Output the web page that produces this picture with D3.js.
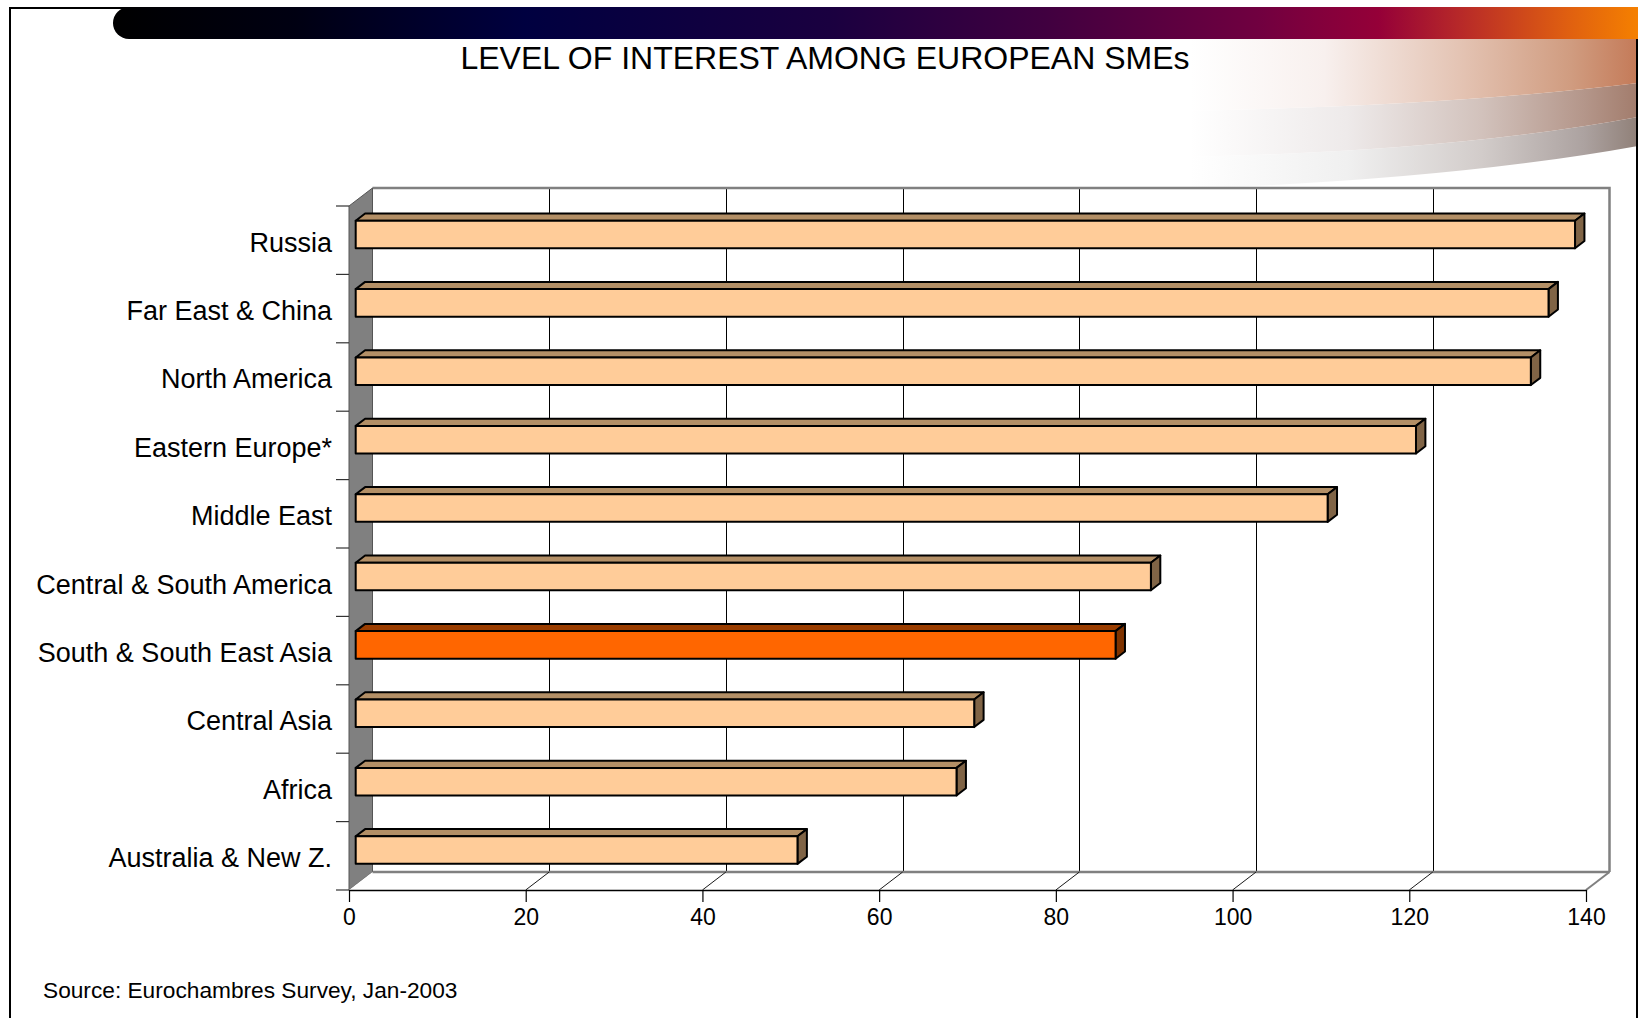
<!DOCTYPE html>
<html>
<head>
<meta charset="utf-8">
<script src="https://cdn.jsdelivr.net/npm/d3@7"></script>
<style>
  html, body { margin: 0; padding: 0; background: #ffffff; }
  svg { display: block; font-family: "Liberation Sans", Arial, sans-serif; }
</style>
</head>
<body>
<svg id="chart" width="1641" height="1018"></svg>
<script>
// Survey data: level of interest by target region
const categories = [
  "Russia",
  "Far East & China",
  "North America",
  "Eastern Europe*",
  "Middle East",
  "Central & South America",
  "South & South East Asia",
  "Central Asia",
  "Africa",
  "Australia & New Z."
];
const interest = [138, 135, 133, 120, 110, 90, 86, 70, 68, 50];
const highlighted = ["South & South East Asia"];
const xTicks = [0, 20, 40, 60, 80, 100, 120, 140];
const titleText = "LEVEL OF INTEREST AMONG EUROPEAN SMEs";
const sourceText = "Source: Eurochambres Survey, Jan-2003";

const svg = d3.select("#chart");
const defs = svg.append("defs");

// ---- slide decoration -------------------------------------------------
const bannerGrad = defs.append("linearGradient")
  .attr("id", "bannerGrad").attr("gradientUnits", "userSpaceOnUse")
  .attr("x1", 113).attr("x2", 1638).attr("y1", 0).attr("y2", 0);
[[0, "#000000"], [0.12, "#000012"], [0.27, "#000040"], [0.47, "#1a0040"],
 [0.61, "#400040"], [0.75, "#700040"], [0.83, "#950038"], [0.885, "#b82a28"],
 [0.955, "#e06010"], [1, "#f58000"]]
  .forEach(([o, c]) => bannerGrad.append("stop").attr("offset", o).attr("stop-color", c));

function fadeGrad(id, stops) {
  const g = defs.append("linearGradient").attr("id", id)
    .attr("gradientUnits", "userSpaceOnUse")
    .attr("x1", 1190).attr("x2", 1638).attr("y1", 0).attr("y2", 0);
  stops.forEach(([o, c]) => g.append("stop").attr("offset", o).attr("stop-color", c));
}
fadeGrad("swoosh1", [[0, "#ffffff"], [0.3, "#f8f0ee"], [0.6, "#e4c4b4"], [0.85, "#d09c80"], [1, "#c47a58"]]);
fadeGrad("swoosh2", [[0, "#ffffff"], [0.35, "#eeeaea"], [0.65, "#d2c2bc"], [0.88, "#b4968a"], [1, "#a27c6c"]]);
fadeGrad("swoosh3", [[0, "#ffffff"], [0.35, "#f0f0f0"], [0.65, "#d2ccca"], [0.88, "#aca2a0"], [1, "#908078"]]);

// sweeping bands under the banner
svg.append("path").attr("fill", "url(#swoosh3)")
  .attr("d", "M1180,157 Q1450,152 1638,117 L1638,146 Q1450,180 1180,189 Z");
svg.append("path").attr("fill", "url(#swoosh2)")
  .attr("d", "M1180,111 Q1450,106 1638,83 L1638,117 Q1450,152 1180,157 Z");
svg.append("path").attr("fill", "url(#swoosh1)")
  .attr("d", "M1180,39 L1638,39 L1638,83 Q1450,106 1180,111 Z");

// frame
svg.append("path").attr("fill", "none").attr("stroke", "#000").attr("stroke-width", 2)
  .attr("d", "M10,1018 L10,8 L1637,8 L1637,1018");

// banner with rounded left end
svg.append("path").attr("fill", "url(#bannerGrad)")
  .attr("d", "M129,7 L1638,7 L1638,39 L129,39 A16,16 0 0 1 129,7 Z");

// title
svg.append("text").attr("x", 825).attr("y", 68.5)
  .attr("text-anchor", "middle").attr("font-size", 32).attr("fill", "#000")
  .text(titleText);

// ---- 3D bar chart -----------------------------------------------------
const x = d3.scaleLinear().domain([0, 140]).range([349, 1586]);
const y = d3.scaleBand().domain(categories).range([206, 890]).padding(0);
const depth = { dx: 23.5, dy: -18 };     // full depth of the plot box
const barFront = 0.285, barDepth = 0.4;   // bar position inside the depth
const top0 = y.range()[0], bot0 = y.range()[1];
const xL = x(0), xR = x(140);

const plot = svg.append("g");

// back wall
plot.append("rect")
  .attr("x", xL + depth.dx).attr("y", top0 + depth.dy)
  .attr("width", xR - xL).attr("height", bot0 - top0)
  .attr("fill", "#ffffff");

// gridlines on the back wall
plot.append("g").selectAll("line")
  .data(xTicks.filter(t => t > 0 && t < 140))
  .join("line")
  .attr("x1", d => Math.round(x(d) + depth.dx) + 0.5).attr("x2", d => Math.round(x(d) + depth.dx) + 0.5)
  .attr("y1", top0 + depth.dy).attr("y2", bot0 + depth.dy)
  .attr("stroke", "#000").attr("stroke-width", 1);

// back wall outline
plot.append("path").attr("fill", "none").attr("stroke", "#808080").attr("stroke-width", 2.5)
  .attr("d", `M${xL + depth.dx},${top0 + depth.dy} L${xR + depth.dx},${top0 + depth.dy} L${xR + depth.dx},${bot0 + depth.dy}`);

// left side wall
plot.append("path").attr("fill", "#808080").attr("stroke", "#555").attr("stroke-width", 1)
  .attr("d", `M${xL},${top0} L${xL + depth.dx},${top0 + depth.dy} L${xL + depth.dx},${bot0 + depth.dy} L${xL},${bot0} Z`);

// floor
plot.append("path").attr("fill", "#ffffff").attr("stroke", "none")
  .attr("d", `M${xL},${bot0} L${xL + depth.dx},${bot0 + depth.dy} L${xR + depth.dx},${bot0 + depth.dy} L${xR},${bot0} Z`);
plot.append("line")
  .attr("x1", xL + depth.dx).attr("x2", xR + depth.dx)
  .attr("y1", bot0 + depth.dy).attr("y2", bot0 + depth.dy)
  .attr("stroke", "#808080").attr("stroke-width", 2.5);
plot.append("line")
  .attr("x1", xR).attr("x2", xR + depth.dx)
  .attr("y1", bot0).attr("y2", bot0 + depth.dy)
  .attr("stroke", "#808080").attr("stroke-width", 2);
plot.append("g").selectAll("line")
  .data(xTicks.filter(t => t > 0 && t < 140))
  .join("line")
  .attr("x1", d => x(d)).attr("x2", d => x(d) + depth.dx)
  .attr("y1", bot0).attr("y2", bot0 + depth.dy)
  .attr("stroke", "#1a1a1a").attr("stroke-width", 1);

// category tick marks at band edges
const edges = categories.map(c => y(c)).concat([bot0]);
plot.append("g").selectAll("line")
  .data(edges).join("line")
  .attr("x1", xL - 13).attr("x2", xL)
  .attr("y1", d => d).attr("y2", d => d)
  .attr("stroke", "#333").attr("stroke-width", 1.2);

// x axis on the front edge
const xAxis = d3.axisBottom(x).tickValues(xTicks).tickSize(12).tickSizeOuter(0).tickPadding(6.5);
const ax = plot.append("g").attr("transform", `translate(0,${bot0})`).call(xAxis);
ax.select(".domain").attr("stroke", "#000").attr("stroke-width", 1.5);
ax.selectAll(".tick line").attr("stroke", "#000").attr("stroke-width", 1.2);
ax.selectAll(".tick text").attr("font-size", 23).attr("fill", "#000")
  .attr("font-family", "'Liberation Sans', Arial, sans-serif");

// category labels
const yAxis = d3.axisLeft(y).tickSize(0).tickPadding(17);
const ay = plot.append("g").attr("transform", `translate(${xL},0)`).call(yAxis);
ay.select(".domain").remove();
ay.selectAll(".tick text").attr("font-size", 27).attr("fill", "#000").attr("dy", "0.42em")
  .attr("font-family", "'Liberation Sans', Arial, sans-serif");

// bars
const bars = categories.map((c, i) => ({ cat: c, value: interest[i] }));
const fdx = depth.dx * barFront, fdy = depth.dy * barFront;
const bdx = depth.dx * barDepth, bdy = depth.dy * barDepth;
const bw = y.bandwidth();

const barG = plot.append("g").selectAll("g").data(bars).join("g")
  .attr("stroke", "#000").attr("stroke-width", 2).attr("stroke-linejoin", "round");

barG.each(function (d) {
  const g = d3.select(this);
  const hot = highlighted.includes(d.cat);
  const x0 = x(0) + fdx, x1 = x(d.value) + fdx;
  const yt = y(d.cat) + bw * 0.29 + fdy, yb = y(d.cat) + bw * 0.693 + fdy;
  // top face
  g.append("path").attr("fill", hot ? "#9a3d00" : "#b38f66")
    .attr("d", `M${x0},${yt} L${x0 + bdx},${yt + bdy} L${x1 + bdx},${yt + bdy} L${x1},${yt} Z`);
  // end face
  g.append("path").attr("fill", hot ? "#7f3300" : "#806446")
    .attr("d", `M${x1},${yt} L${x1 + bdx},${yt + bdy} L${x1 + bdx},${yb + bdy} L${x1},${yb} Z`);
  // front face
  g.append("rect").attr("fill", hot ? "#ff6600" : "#ffcc99")
    .attr("x", x0).attr("y", yt).attr("width", x1 - x0).attr("height", yb - yt);
});

// source note
svg.append("text").attr("x", 43).attr("y", 998)
  .attr("font-size", 22.7).attr("fill", "#000")
  .text(sourceText);
</script>
</body>
</html>
